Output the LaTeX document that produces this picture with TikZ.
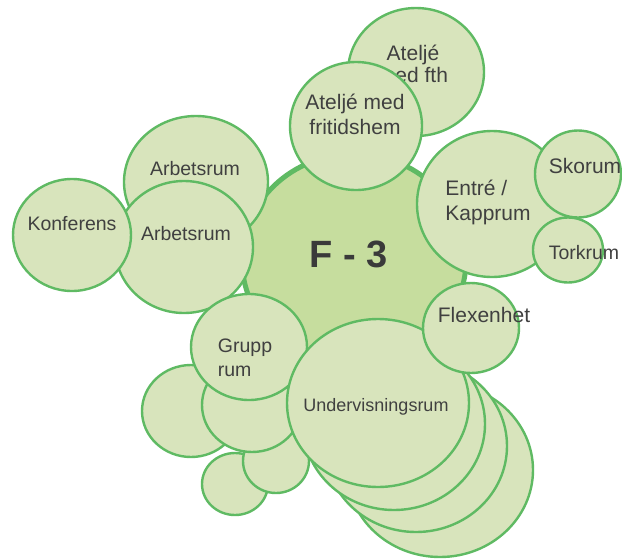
\documentclass[tikz,border=0pt]{standalone}
\usepackage{fontspec}
\setmainfont{Liberation Sans}
\usetikzlibrary{shapes.geometric}

\definecolor{ringgreen}{HTML}{5FBA63}
\definecolor{roomgreen}{HTML}{D8E4BC}
\definecolor{coregreen}{HTML}{C6DD9E}
\definecolor{txtgray}{HTML}{404040}

\begin{document}
\begin{tikzpicture}[x=1pt,y=-1pt,
    room/.style 2 args={ellipse,draw=ringgreen,fill=roomgreen,line width=2.4pt,inner sep=0pt,minimum width=#1pt,minimum height=#2pt},
    core/.style={room={224}{212},fill=coregreen,line width=5pt},
    lbl/.style={text=txtgray,inner sep=0pt,align=center,font=\fontsize{21}{25}\selectfont,text height=15pt,text depth=0pt},
    small lbl/.style={lbl,font=\fontsize{19.5}{24}\selectfont,text height=14pt},
    big lbl/.style={text=txtgray!90!black,inner sep=0pt,font=\fontsize{38}{40}\selectfont\bfseries}]

    \useasboundingbox (0,0) rectangle (622,558);

    \node[core] (f3) at (354,260) {};
    \node[big lbl] (f3-t) at (349,254) {F - 3};

    \node[room={136}{128}] (fth) at (416,72) {};
    \node[lbl,font=\fontsize{21}{22}\selectfont] (fth-t) at (413,75) {Ateljé\\med fth};
    \node[room={132}{128}] (fritid) at (356,126) {};
    \node[lbl] (fritid-t) at (355,127) {Ateljé med\\fritidshem};

    \node[room={144}{132}] (arb1) at (196,182) {};
    \node[small lbl] (arb1-t) at (195,168) {Arbetsrum};
    \node[room={138}{132}] (arb2) at (184,247) {};
    \node[small lbl] (arb2-t) at (186,233) {Arbetsrum};
    \node[room={118}{112}] (konf) at (72,235) {};
    \node[small lbl] (konf-t) at (72,223) {Konferens};

    \node[room={150}{146}] (entre) at (492,204) {};
    \node[lbl,align=left] (entre-t) at (488,213) {Entré /\\Kapprum};
    \node[room={86}{87}] (sko) at (578,174) {};
    \node[lbl] (sko-t) at (585,166) {Skorum};
    \node[room={70}{65}] (tork) at (568,250) {};
    \node[small lbl] (tork-t) at (584,252) {Torkrum};

    \node[room={66}{62}] (grp3) at (235,484) {};
    \node[room={66}{64}] (grp4) at (276,461) {};
    \node[room={98}{92}] (grp1) at (191,411) {};
    \node[room={100}{94}] (grp2) at (252,405) {};
    \node[room={116}{106}] (grupp) at (249,347) {};
    \node[small lbl,align=left] (grupp-t) at (245,369) {Grupp\\rum};

    \node[room={186}{174}] (und4) at (440,470) {};
    \node[room={182}{172}] (und3) at (416,446) {};
    \node[room={182}{172}] (und2) at (394,424) {};
    \node[room={182}{168}] (und) at (378,403) {};
    \node[lbl,font=\fontsize{18}{22}\selectfont,text height=13pt] (und-t) at (376,405) {Undervisningsrum};

    \node[room={96}{90}] (flex) at (471,328) {};
    \node[lbl] (flex-t) at (484,315) {Flexenhet};
\end{tikzpicture}
\end{document}
